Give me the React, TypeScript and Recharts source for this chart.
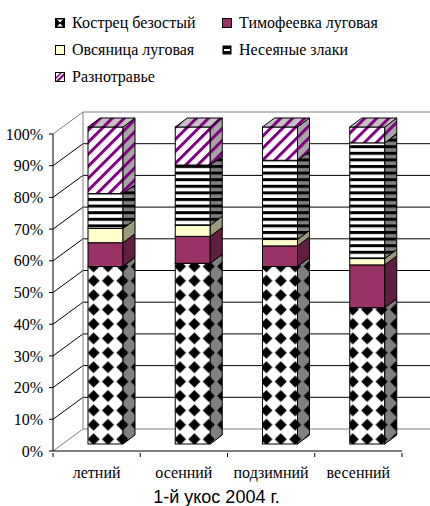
import React from 'react';
import { BarChart, Bar, XAxis, YAxis, CartesianGrid } from 'recharts';

const categories = ['летний', 'осенний', 'подзимний', 'весенний'];
const kostrets = [56, 57, 56, 43];
const timofeevka = [7.5, 8.5, 6.5, 13.5];
const ovsyanitsa = [4.5, 3.5, 2, 2];
const neseyanye = [11, 19, 25, 36.5];
const raznotravie = [21, 12, 10.5, 5];
const yTicks = [0, 10, 20, 30, 40, 50, 60, 70, 80, 90, 100];
const seriesNames = ['Кострец безостый', 'Тимофеевка луговая', 'Овсяница луговая', 'Несеяные злаки', 'Разнотравье'];
const xTitle = '1-й укос 2004 г.';

const data = categories.map((c, i) => ({
  cat: c,
  k: kostrets[i],
  t: timofeevka[i],
  o: ovsyanitsa[i],
  n: neseyanye[i],
  r: raznotravie[i],
}));

const SERIF = 'Times New Roman, Liberation Serif, Tinos, DejaVu Serif, serif';
const SANS = 'Arial, Liberation Sans, sans-serif';

// 3D geometry
const SX = 9;
const SY = 7;
const DX = 12;
const DY = 9;
const WX = 30;
const WY = 22;

const make3D = (front: string, side: string, top: string, drawTop: boolean) => (props: any) => {
  const { x, y, width, height } = props;
  if (!height || height <= 0) return <g />;
  const fx = x + SX;
  const fy = y - SY;
  const w = width;
  const h = height;
  return (
    <g>
      <rect x={fx} y={fy} width={w} height={h} fill={front} stroke="#000" strokeWidth={1} />
      <polygon
        points={`${fx + w},${fy} ${fx + w + DX},${fy - DY} ${fx + w + DX},${fy + h - DY} ${fx + w},${fy + h}`}
        fill={side}
        stroke="#000"
        strokeWidth={1}
      />
      {drawTop && (
        <polygon
          points={`${fx},${fy} ${fx + DX},${fy - DY} ${fx + w + DX},${fy - DY} ${fx + w},${fy}`}
          fill={top}
          stroke="#000"
          strokeWidth={1}
        />
      )}
    </g>
  );
};

const series = [
  { key: 'k', front: 'url(#pDia)', side: 'url(#pDiaS)', top: 'url(#pDiaS)' },
  { key: 't', front: '#993366', side: '#5e1f40', top: '#5e1f40' },
  { key: 'o', front: '#FFFFCC', side: '#9c9c7c', top: '#d8d8b0' },
  { key: 'n', front: 'url(#pStr)', side: 'url(#pStrS)', top: 'url(#pStrS)' },
  { key: 'r', front: 'url(#pDiag)', side: 'url(#pDiagS)', top: 'url(#pDiagT)' },
];

const GridLine = (p: any) => {
  const { x1, y1, x2 } = p;
  const top = p.y;
  const bottom = p.y + p.height;
  const isTop = top !== undefined && Math.abs(y1 - top) < 1;
  const isBottom = bottom !== undefined && !isNaN(bottom) && Math.abs(y1 - bottom) < 1;
  const col = isTop || isBottom ? '#808080' : '#000';
  const wx = x1 + WX;
  const wy = y1 - WY;
  return (
    <g>
      <line x1={x1} y1={y1} x2={wx} y2={wy} stroke={col} strokeWidth={1} />
      <line x1={wx} y1={wy} x2={x2 + WX} y2={wy} stroke={col} strokeWidth={1} />
      {isTop && (
        <line x1={wx} y1={wy} x2={wx} y2={wy + p.height} stroke="#808080" strokeWidth={1} />
      )}
    </g>
  );
};

const XTick = (p: any) => {
  const { x, y, payload, index } = p;
  const half = payload && payload.offset ? payload.offset : 87.25 / 2;
  const last = index === categories.length - 1;
  return (
    <g>
      <line x1={x - half} y1={y} x2={x - half} y2={y + 4} stroke="#000" />
      {last && <line x1={x + half} y1={y} x2={x + half} y2={y + 4} stroke="#000" />}
      <text x={x} y={y + 24.5} textAnchor="middle" fontFamily={SERIF} fontSize={16} fill="#000">
        {payload.value}
      </text>
    </g>
  );
};

const LegendIcon = ({ i }: { i: number }) => {
  const s = 9;
  if (i === 0)
    return (
      <svg width={s + 1} height={s + 1}>
        <rect x={0.5} y={0.5} width={s} height={s} fill="#000" />
        <polygon points={`2,1.5 8,1.5 5,4.5`} fill="#fff" />
        <polygon points={`2,8.5 8,8.5 5,5.5`} fill="#fff" />
        <rect x={0.5} y={0.5} width={s} height={s} fill="none" stroke="#000" />
      </svg>
    );
  if (i === 1)
    return (
      <svg width={s + 1} height={s + 1}>
        <rect x={0.5} y={0.5} width={s} height={s} fill="#993366" stroke="#000" />
      </svg>
    );
  if (i === 2)
    return (
      <svg width={s + 1} height={s + 1}>
        <rect x={0.5} y={0.5} width={s} height={s} fill="#FFFFCC" stroke="#000" />
      </svg>
    );
  if (i === 3)
    return (
      <svg width={s + 1} height={s + 1}>
        <rect x={0.5} y={0.5} width={s} height={s} fill="#000" />
        <rect x={2} y={4} width={6} height={2} fill="#fff" />
      </svg>
    );
  return (
    <svg width={s + 1} height={s + 1}>
      <rect x={0.5} y={0.5} width={s} height={s} fill="#fff" />
      <polygon points={`1,9 9,1 9,4 4,9`} fill="#800080" />
      <polygon points={`1,7 7,1 5,1 1,5`} fill="#800080" />
      <rect x={0.5} y={0.5} width={s} height={s} fill="none" stroke="#000" />
    </svg>
  );
};

const legendPos = [
  { x: 55, y: 23 },
  { x: 222, y: 23 },
  { x: 55, y: 50 },
  { x: 222, y: 50 },
  { x: 55, y: 77 },
];

export default function App() {
  return (
    <div style={{ position: 'absolute', left: 0, top: 0, width: 430, height: 506, background: '#fff' }}>
      <svg width={0} height={0} style={{ position: 'absolute' }}>
        <defs>
          <pattern id="pDia" patternUnits="userSpaceOnUse" width={14.4} height={14.4}>
            <rect width={14.4} height={14.4} fill="#fff" />
            <polygon points="7.2,1.2 13.2,7.2 7.2,13.2 1.2,7.2" fill="#000" />
          </pattern>
          <pattern id="pDiaS" patternUnits="userSpaceOnUse" width={14.4} height={14.4}>
            <rect width={14.4} height={14.4} fill="#808080" />
            <polygon points="7.2,1.2 13.2,7.2 7.2,13.2 1.2,7.2" fill="#000" />
          </pattern>
          <pattern id="pStr" patternUnits="userSpaceOnUse" width={10} height={6.6}>
            <rect width={10} height={6.6} fill="#fff" />
            <rect width={10} height={3} fill="#000" />
          </pattern>
          <pattern id="pStrS" patternUnits="userSpaceOnUse" width={10} height={6.6}>
            <rect width={10} height={6.6} fill="#808080" />
            <rect width={10} height={3} fill="#000" />
          </pattern>
          <pattern id="pDiag" patternUnits="userSpaceOnUse" width={8.5} height={10} patternTransform="rotate(45)">
            <rect width={8.5} height={10} fill="#fff" />
            <rect width={3} height={10} fill="#800080" />
          </pattern>
          <pattern id="pDiagS" patternUnits="userSpaceOnUse" width={8.5} height={10} patternTransform="rotate(45)">
            <rect width={8.5} height={10} fill="#a6a6a6" />
            <rect width={3} height={10} fill="#800080" />
          </pattern>
          <pattern id="pDiagT" patternUnits="userSpaceOnUse" width={8.5} height={10} patternTransform="rotate(45)">
            <rect width={8.5} height={10} fill="#c4c4c4" />
            <rect width={3} height={10} fill="#800080" />
          </pattern>
        </defs>
      </svg>
      {seriesNames.map((n, i) => (
        <div
          key={n}
          style={{
            position: 'absolute',
            left: legendPos[i].x,
            top: legendPos[i].y - 10,
            height: 20,
            display: 'flex',
            alignItems: 'center',
            fontFamily: SERIF,
            fontSize: 16,
            whiteSpace: 'nowrap',
            color: '#000',
          }}
        >
          <LegendIcon i={i} />
          <span style={{ marginLeft: 7 }}>{n}</span>
        </div>
      ))}
      <div style={{ position: 'absolute', left: 0, top: 0 }}>
        <BarChart
          width={430}
          height={506}
          data={data}
          margin={{ top: 134, right: 28, bottom: 0, left: 0 }}
          barSize={35}
        >
          <CartesianGrid vertical={false} horizontal={GridLine as any} />
          <XAxis
            dataKey="cat"
            height={55}
            axisLine={{ stroke: '#000' }}
            tickLine={false}
            tickSize={0}
            tick={XTick}
            interval={0}
            label={{
              content: (lp: any) => {
                const vb = lp.viewBox || { x: 53, y: 451, width: 349, height: 55 };
                return (
                  <text
                    x={vb.x + vb.width / 2 - 11}
                    y={vb.y + vb.height - 3}
                    textAnchor="middle"
                    fontFamily={SANS}
                    fontSize={18}
                    fill="#000"
                  >
                    {xTitle}
                  </text>
                );
              },
            }}
          />
          <YAxis
            width={53}
            domain={[0, 100]}
            ticks={yTicks}
            interval={0}
            tickFormatter={(v: number) => `${v}%`}
            axisLine={{ stroke: '#000' }}
            tickLine={{ stroke: '#000' }}
            tickSize={4}
            tickMargin={6}
            tick={{ fontFamily: SERIF, fontSize: 16, fill: '#000' }}
          />
          {series.map((s, i) => (
            <Bar
              key={s.key}
              dataKey={s.key}
              name={seriesNames[i]}
              stackId="a"
              isAnimationActive={false}
              shape={make3D(s.front, s.side, s.top, i === series.length - 1)}
            />
          ))}
        </BarChart>
      </div>
    </div>
  );
}
